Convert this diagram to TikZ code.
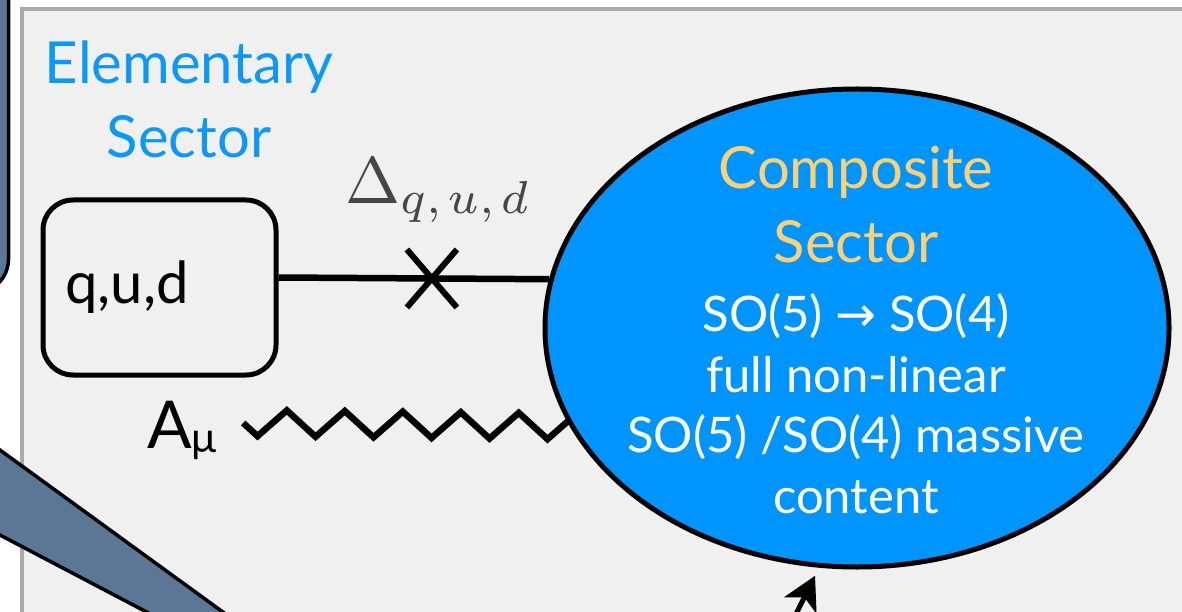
\documentclass[tikz,border=0pt]{standalone}
\usepackage{amsmath}
\usepackage{fontspec}
\newfontfamily\gill{Lato}
\newfontfamily\arrowfont{DejaVu Sans}
\usetikzlibrary{arrows.meta,shapes.geometric,shapes.misc,decorations.pathmorphing,backgrounds}
\definecolor{panelgray}{RGB}{240,240,240}
\definecolor{panelrule}{RGB}{170,170,170}
\definecolor{slate}{RGB}{92,118,149}
\definecolor{elemblue}{RGB}{12,152,250}
\definecolor{compblue}{RGB}{0,148,255}
\definecolor{compgold}{RGB}{252,208,118}
\definecolor{deltagray}{RGB}{70,70,70}

\begin{document}
\begin{tikzpicture}[x=1pt,y=-1pt,
  callout/.style={fill=slate,draw=black,line width=3.5pt},
  sector/.style={font=\gill\fontsize{58}{74}\selectfont,align=center,inner sep=0pt},
  content/.style={font=\gill\fontsize{49}{60.5}\selectfont,text=white,align=center,inner sep=0pt},
  prop/.style={line width=6.5pt},
  gauge/.style={line width=6.5pt,line join=miter,decorate,
    decoration={zigzag,mirror,segment length=58pt,amplitude=13pt}}]
\useasboundingbox (0,0) rectangle (1182,612);
\draw[callout,rounded corners=34pt] (-60,-40) rectangle (8.5,293);
\draw[callout] (-50,413.7) -- (421,756) -- (-50,508.8) -- cycle;
\node[draw,line width=5pt,rounded corners=30pt,minimum width=233pt,minimum height=175pt,
  text width=189pt,inner xsep=22pt,align=left,font=\gill\fontsize{58}{58}\selectfont] (qud) at (159.5,287.5) {q,u,d};
\node[sector,text=elemblue,anchor=base] (elemlabel) at (189,158) {Elementary\\Sector};
\node[anchor=base west,inner sep=0pt,text=deltagray] (dlabel) at (345,204) {\scalebox{6.6}{$\Delta_{q,\mkern2mu u,\mkern2mu d}$}};
\node[anchor=base west,inner sep=0pt,font=\gill\fontsize{66}{66}\selectfont] (amu) at (147,448)
  {A{\fontsize{42}{42}\selectfont\raisebox{-4pt}{μ}}};
\node[ellipse,draw,fill=compblue,line width=5pt,minimum width=624pt,minimum height=478pt,inner sep=0pt] (comp) at (857,328) {};
\node[sector,text=compgold,anchor=base] (comptitle) at (856,262) {Composite\\Sector};
\node[content,anchor=base] (compbody) at (856,513)
  {SO(5) {\arrowfont →} SO(4)\\full non-linear\\SO(5) /SO(4) massive\\content};
\coordinate (arrowfoot) at (770,666);
\draw[line width=5pt,-{Stealth[length=33pt,width=36pt,inset=9pt]},shorten >=9pt] (arrowfoot) -- (comp.261);
\begin{scope}[on background layer]
\fill[panelgray] (22,9.5) rectangle (1200,630);
\draw[panelrule,line width=4pt] (22,640) -- (22,9.5) -- (1200,9.5);
\draw[prop] ([yshift=10pt]qud.east) -- (comp.171)
  node[pos=0.567,cross out,draw,line width=6pt,minimum width=44pt,minimum height=52pt,inner sep=0pt] (massins) {};
\draw[gauge] ([xshift=26pt,yshift=7pt]amu.east) -- ([xshift=40pt]comp.199);
\end{scope}
\end{tikzpicture}
\end{document}
